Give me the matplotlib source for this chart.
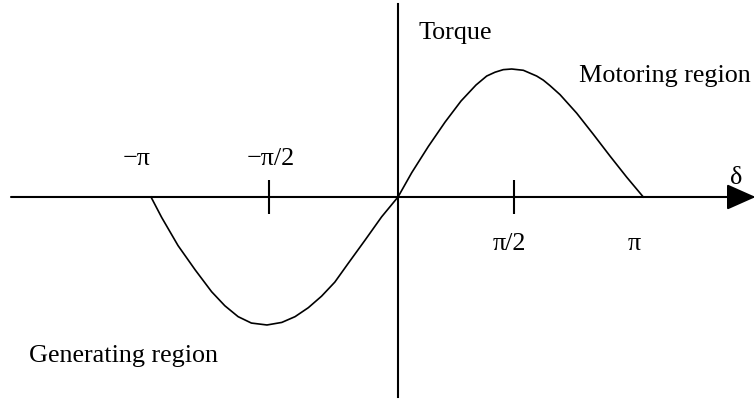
import numpy as np
import matplotlib
matplotlib.use('Agg')
import matplotlib.pyplot as plt

plt.rcParams['font.family'] = ['Liberation Serif', 'DejaVu Serif']

# torque-angle curve (delta in rad, torque normalised)
delta = [-3.167, -3.03, -2.82, -2.60, -2.39, -2.22, -2.05, -1.88, -1.68,
         -1.49, -1.32, -1.15, -0.98, -0.81, -0.64, -0.42, -0.21, 0.0,
         0.176, 0.389, 0.603, 0.808, 1.0, 1.137, 1.244, 1.35, 1.458,
         1.607, 1.778, 1.863, 1.949, 2.077, 2.291, 2.42, 2.504, 2.718,
         2.932, 3.145]
torque = [0.0, -0.16, -0.38, -0.57, -0.74, -0.85, -0.935, -0.985, -1.0,
          -0.98, -0.935, -0.865, -0.775, -0.665, -0.52, -0.335, -0.155, 0.0,
          0.19, 0.395, 0.585, 0.75, 0.875, 0.945, 0.975, 0.995, 1.0,
          0.99, 0.945, 0.913, 0.87, 0.80, 0.655, 0.555, 0.49, 0.32,
          0.155, 0.0]

tick_x = [-1.65, 1.49]
upper_labels = ["\u2212\u03c0", "\u2212\u03c0/2"]
upper_x = [-3.347, -1.628]
lower_labels = ["\u03c0/2", "\u03c0"]
lower_x = [1.423, 3.026]

fig = plt.figure(figsize=(7.56, 4.02), dpi=100)
ax = fig.add_axes([0, 0, 1, 1])
ax.set_xlim(-5.103, 4.590)
ax.set_ylim(-1.594, 1.547)
ax.axis('off')

fs = 18.8
lw_axis = 1.5

# axes
ax.annotate('', xy=(4.585, 0), xytext=(-4.962, 0),
            arrowprops=dict(arrowstyle='-|>,head_length=0.9,head_width=0.4',
                            color='black', lw=lw_axis, shrinkA=0, shrinkB=0,
                            mutation_scale=20))
ax.plot([0, 0], [-1.5625, 1.508], color='black', lw=lw_axis)

# tick marks
ax.vlines(tick_x, -0.133, 0.133, color='black', lw=lw_axis)

# curve
ax.plot(delta, torque, color='black', lw=1.2, solid_joinstyle='round')

for lab, x in zip(upper_labels, upper_x):
    ax.text(x, 0.258, lab, ha='center', va='baseline', fontsize=fs)
for lab, x in zip(lower_labels, lower_x):
    ax.text(x, -0.406, lab, ha='center', va='baseline', fontsize=fs)

ax.text(4.334, 0.109, "\u03b4", ha='center', va='baseline', fontsize=fs)
ax.text(0.269, 1.242, "Torque", ha='left', va='baseline', fontsize=fs)
ax.text(2.321, 0.906, "Motoring region", ha='left', va='baseline', fontsize=fs)
ax.text(-4.731, -1.281, "Generating region", ha='left', va='baseline', fontsize=fs)

fig.savefig('out.png', dpi=100)
